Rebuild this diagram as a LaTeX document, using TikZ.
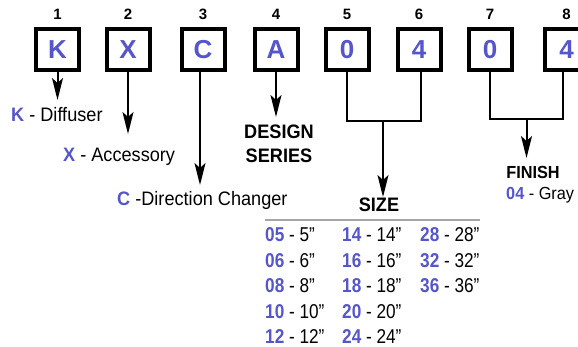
\documentclass[tikz,border=0pt]{standalone}
\usepackage{fontspec}
\setmainfont[FakeStretch=0.93]{Liberation Sans}
\newfontfamily\tabfont[FakeStretch=0.86]{Liberation Sans}
\newfontfamily\boxfont{Liberation Sans}
\usetikzlibrary{arrows.meta}
\definecolor{codeblue}{RGB}{85,85,204}
\newcommand{\cd}[1]{{\bfseries\color{codeblue}#1}}
\begin{document}
\begin{tikzpicture}[x=1pt,y=-1pt,
  codebox/.style={draw, line width=4pt, minimum width=43pt, minimum height=41pt, inner sep=0pt,
    font=\boxfont\fontsize{26}{26}\selectfont\bfseries, text=codeblue},
  posnum/.style={font=\boxfont\fontsize{15}{15}\selectfont\bfseries, inner sep=0pt},
  lbl/.style={font=\fontsize{19.5}{20}\selectfont, inner sep=0pt, anchor=base west},
  tab/.style={font=\tabfont\fontsize{20}{20}\selectfont, inner sep=0pt, anchor=base west},
  head/.style={font=\fontsize{19.5}{20}\selectfont\bfseries, inner sep=0pt, anchor=base},
  small/.style={font=\fontsize{17.5}{18}\selectfont, inner sep=0pt},
  conn/.style={line width=2pt},
  arr/.style={line width=2pt, -{Stealth[length=22pt, width=11pt, inset=5pt]}}]
\useasboundingbox (0,0) rectangle (578,347);
\clip (0,0) rectangle (578,347);
% boxes
\foreach \n/\x/\t in {1/57.5/K, 2/128/X, 3/203/C, 4/276/A, 5/347/0, 6/419/4, 7/490/0, 8/566.5/4}{
  \node[codebox] (b\n) at (\x,50) {\t};
  \node[posnum] (p\n) at (\x,14) {\n};
}
% tips
\coordinate (t1) at (57.5,100);
\coordinate (t2) at (128,134);
\coordinate (t3) at (200,185);
\coordinate (t4) at (276,117);
\coordinate (j56) at (383,121);
\coordinate (t56) at (383,197);
\coordinate (j78) at (526.5,119);
\coordinate (t78) at (526.5,158);
\draw[arr] (b1.south) -- (t1);
\draw[arr] (b2.south) -- (t2);
\draw[arr] ([xshift=-3pt]b3.south) -- (t3);
\draw[arr] (b4.south) -- (t4);
\draw[conn] (b5.south) |- (j56) -| ([xshift=2pt]b6.south);
\draw[arr] (j56) -- (t56);
\draw[conn] (b7.south) |- (j78) -| ([xshift=-3.5pt]b8.south);
\draw[arr] (j78) -- (t78);
% labels
\node[lbl] (lk) at (11,122) {\cd{K} - Diffuser};
\node[lbl] (lx) at (63,162) {\cd{X} - Accessory};
\node[lbl] (lc) at (117,206) {\cd{C} -Direction Changer};
\node[head] (ld1) at (279,139) {DESIGN};
\node[head] (ld2) at (279,163) {SERIES};
\node[head] (ls) at (379,212) {SIZE};
\draw[line width=1.5pt, gray!70] (265,220) coordinate (r1) -- (480,220) coordinate (r2);
\node[small, font=\fontsize{17.5}{18}\selectfont\bfseries, anchor=base] (lf) at (533,179) {FINISH};
\node[small, anchor=base west] (lg) at (506,200) {\cd{04} - Gray};
% size table
\node[tab] (s05) at (265,242) {\cd{05} - 5”};
\node[tab] (s06) at (265,267.5) {\cd{06} - 6”};
\node[tab] (s08) at (265,293) {\cd{08} - 8”};
\node[tab] (s10) at (265,318) {\cd{10} - 10”};
\node[tab] (s12) at (265,343.5) {\cd{12} - 12”};
\node[tab] (s14) at (342,242) {\cd{14} - 14”};
\node[tab] (s16) at (342,267.5) {\cd{16} - 16”};
\node[tab] (s18) at (342,293) {\cd{18} - 18”};
\node[tab] (s20) at (342,318) {\cd{20} - 20”};
\node[tab] (s24) at (342,343.5) {\cd{24} - 24”};
\node[tab] (s28) at (420,242) {\cd{28} - 28”};
\node[tab] (s32) at (420,267.5) {\cd{32} - 32”};
\node[tab] (s36) at (420,293) {\cd{36} - 36”};
\end{tikzpicture}
\end{document}
